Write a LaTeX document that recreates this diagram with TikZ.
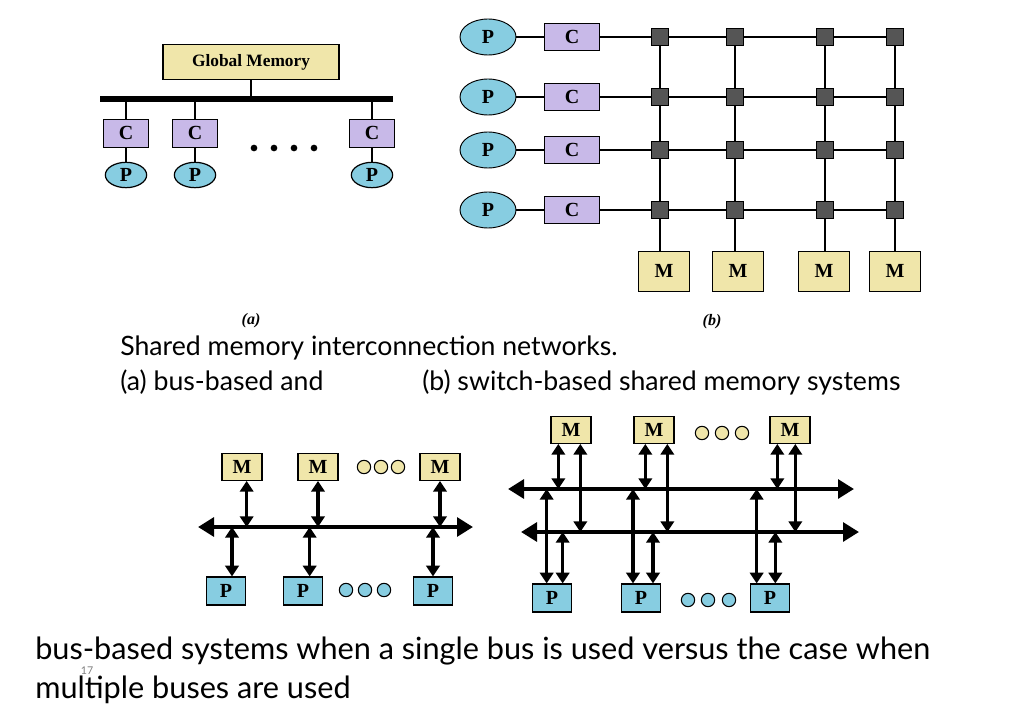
\documentclass[tikz,border=0pt]{standalone}
\usepackage{fontspec}
\setmainfont{Lato}
\newfontfamily\boxfont{Liberation Serif}
\usetikzlibrary{arrows.meta,shapes.geometric,calc}
\definecolor{pblue}{RGB}{135,205,225}
\definecolor{clav}{RGB}{200,185,232}
\definecolor{myel}{RGB}{240,230,170}
\definecolor{swg}{RGB}{85,85,85}
\begin{document}
\begin{tikzpicture}[x=0.75pt,y=-0.75pt,
  lab/.style={font=\boxfont\bfseries\fontsize{15}{15}\selectfont,inner sep=0pt},
  pe/.style={ellipse,draw,line width=0.9pt,fill=pblue,lab,minimum width=31pt,minimum height=19pt},
  pbig/.style={ellipse,draw,line width=0.7pt,fill=pblue,lab,minimum width=42pt,minimum height=27pt},
  cb/.style={rectangle,draw,line width=0.7pt,fill=clav,lab,minimum width=34pt,minimum height=21pt},
  cbb/.style={rectangle,draw,line width=0.7pt,fill=clav,lab,minimum width=41pt,minimum height=20pt},
  sw/.style={rectangle,draw,fill=swg,minimum size=13pt,inner sep=0pt},
  mb/.style={rectangle,draw,line width=0.7pt,fill=myel,lab,minimum width=38pt,minimum height=30pt},
  mm/.style={rectangle,draw,line width=0.9pt,fill=myel,lab,minimum width=30pt,minimum height=20pt},
  mp/.style={rectangle,draw,line width=0.9pt,fill=pblue,lab,minimum width=29pt,minimum height=21pt},
  od/.style={circle,draw,line width=0.8pt,minimum size=10pt,inner sep=0pt},
  dot/.style={circle,fill=black,minimum size=5pt,inner sep=0pt},
  thin/.style={line width=0.8pt},
  bus/.style={line width=3pt,{Triangle[length=12pt,width=14pt]}-{Triangle[length=12pt,width=14pt]}},
  dar/.style={line width=2.4pt,{Triangle[length=8pt,width=10pt]}-{Triangle[length=8pt,width=10pt]}},
  txt/.style={font=\fontsize{20}{20}\selectfont,anchor=west,inner sep=0pt},
  txt2/.style={font=\fontsize{23}{23}\selectfont,anchor=west,inner sep=0pt}]
\useasboundingbox (0,0) rectangle (1024,709);
% ---------- (a)
\node[rectangle,draw,line width=0.8pt,fill=myel,font=\boxfont\bfseries\fontsize{13}{13}\selectfont,minimum width=132pt,minimum height=26pt] (gm) at (251,62) {Global Memory};
\coordinate (bl) at (100,99); \coordinate (br) at (393,99);
\draw[line width=4pt] (bl) -- (br);
\draw[thin] (gm.south) -- (gm.south |- bl);
\node[cb] (c1) at (126,133) {C};
\node[cb] (c2) at (195,133) {C};
\node[cb] (c3) at (372,133) {C};
\foreach \i in {1,2,3}{
  \node[pe] (p\i) at (c\i |- 0,175) {P};
  \draw[thin] (c\i.north) -- (c\i.north |- bl);
  \draw[thin] (c\i.south) -- (p\i.north);}
\foreach \x/\n in {254/a,274/b,294/c,314/d}{\node[dot] (d\n) at (\x,148) {};}
\node[font=\boxfont\bfseries\itshape\fontsize{12}{12}\selectfont] (la) at (251,321) {(a)};
% ---------- (b)
\foreach \y/\r in {37/1,97/2,150/3,210/4}{
  \node[pbig] (bp\r) at (488,\y) {P};
  \node[cbb] (bc\r) at (572,\y) {C};
  \draw[thin] (bp\r) -- (bc\r);
  \foreach \x/\c in {660/1,735/2,825/3,895/4}{\node[sw] (s\r\c) at (\x,\y) {};}
  \draw[thin] (bc\r) -- (s\r1) -- (s\r2) -- (s\r3) -- (s\r4);}
\foreach \x/\c in {664/1,738/2,824/3,895/4}{
  \node[mb] (bm\c) at (\x,271) {M};
  \draw[thin] (s1\c) -- (s2\c) -- (s3\c) -- (s4\c) -- (s4\c |- bm\c.north);}
\node[font=\boxfont\bfseries\itshape\fontsize{12}{12}\selectfont] (lb) at (712,322) {(b)};
% ---------- captions
\node[txt] (t1) at (120,348) {Shared memory interconnection networks.};
\node[txt] (t2) at (120,382) {(a) bus-based and};
\node[txt] (t3) at (422,382) {(b) switch-based shared memory systems};
% ---------- bottom left
\coordinate (sl) at (198,527); \coordinate (sr) at (473,527);
\draw[bus] (sl) -- (sr);
\node[mm] (m1) at (242,467) {M};
\node[mm] (m2) at (318,467) {M};
\node[mm] (m3) at (440,467) {M};
\node[mp] (q1) at (226,591) {P};
\node[mp] (q2) at (303,591) {P};
\node[mp] (q3) at (433,591) {P};
\draw[dar] ([xshift=3.5pt]m1.south) -- ([xshift=3.5pt]m1.south |- sl);
\draw[dar] (m2.south) -- (m2.south |- sl);
\draw[dar] (m3.south) -- (m3.south |- sl);
\draw[dar] ([xshift=4.5pt]q1.north) -- ([xshift=4.5pt]q1.north |- sl);
\draw[dar] ([xshift=5pt]q2.north) -- ([xshift=5pt]q2.north |- sl);
\draw[dar] (q3.north) -- (q3.north |- sl);
\foreach \x/\n in {364/a,381/b,398/c}{\node[od,fill=myel] (e\n) at (\x,467) {};}
\foreach \x/\n in {346/a,365/b,384/c}{\node[od,fill=pblue] (f\n) at (\x,590) {};}
% ---------- bottom right
\coordinate (u1l) at (508,489); \coordinate (u1r) at (854,489);
\coordinate (u2l) at (521,532); \coordinate (u2r) at (859,532);
\draw[bus] (u1l) -- (u1r);
\draw[bus] (u2l) -- (u2r);
\node[mm] (n1) at (571,430) {M};
\node[mm] (n2) at (654,430) {M};
\node[mm] (n3) at (790,430) {M};
\node[mp] (r1) at (552,598) {P};
\node[mp] (r2) at (641,598) {P};
\node[mp] (r3) at (770,598) {P};
\foreach \i/\a/\b in {1/-9.5/7,2/-6.5/10,3/-9.5/4}{
  \draw[dar] ([xshift=\a pt]n\i.south) -- ([xshift=\a pt]n\i.south |- u1l);
  \draw[dar] ([xshift=\b pt]n\i.south) -- ([xshift=\b pt]n\i.south |- u2l);}
\foreach \i/\a/\b in {1/-4/8,2/-6/9,3/-10/4}{
  \draw[dar] ([xshift=\a pt]r\i.north) -- ([xshift=\a pt]r\i.north |- u1l);
  \draw[dar] ([xshift=\b pt]r\i.north) -- ([xshift=\b pt]r\i.north |- u2l);}
\foreach \x/\n in {702/a,722/b,742/c}{\node[od,fill=myel] (g\n) at (\x,433) {};}
\foreach \x/\n in {688/a,708/b,729/c}{\node[od,fill=pblue] (h\n) at (\x,600) {};}
% ---------- bottom text
\node[txt2] (t4) at (35,651) {bus-based systems when a single bus is used versus the case when};
\node[txt2] (t5) at (35,690) {multiple buses are used};
\node[font=\fontsize{8}{8}\selectfont,text=gray,inner sep=0pt] (pg) at (87,671) {17};
\end{tikzpicture}
\end{document}
